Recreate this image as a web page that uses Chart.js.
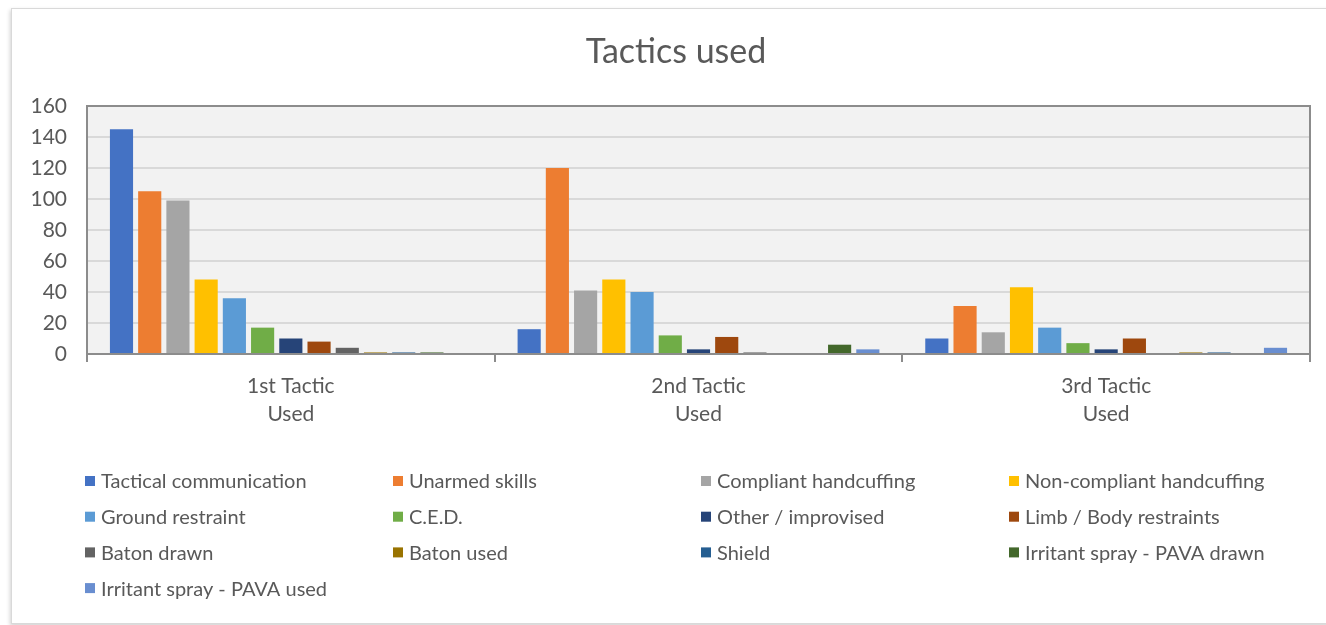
<!DOCTYPE html>
<html><head><meta charset="utf-8">
<script src="https://cdn.jsdelivr.net/npm/chart.js@4.4.1/dist/chart.umd.min.js"></script>
<style>
html,body{margin:0;padding:0;background:#fff;overflow:hidden;width:1326px;height:625px;}
#frame{position:absolute;left:11px;top:8px;width:1340px;height:614px;border:1px solid #d9d9d9;box-shadow:-1px 2px 4px rgba(0,0,0,0.18);background:#fff;}
canvas{position:absolute;left:0;top:0;}
</style></head><body>
<div id="frame"></div>
<canvas id="c" width="1326" height="625"></canvas>
<script>
const categories = [['1st Tactic','Used'],['2nd Tactic','Used'],['3rd Tactic','Used']];
const seriesNames = ['Tactical communication','Unarmed skills','Compliant handcuffing','Non-compliant handcuffing',
  'Ground restraint','C.E.D.','Other / improvised','Limb / Body restraints',
  'Baton drawn','Baton used','Shield','Irritant spray - PAVA drawn','Irritant spray - PAVA used'];
const tacticalCommunication = [145, 16, 10];
const unarmedSkills = [105, 120, 31];
const compliantHandcuffing = [99, 41, 14];
const nonCompliantHandcuffing = [48, 48, 43];
const groundRestraint = [36, 40, 17];
const ced = [17, 12, 7];
const otherImprovised = [10, 3, 3];
const limbBodyRestraints = [8, 11, 10];
const batonDrawn = [4, 1, 0];
const batonUsed = [1, 0, 1];
const shield = [1, 0, 1];
const irritantDrawn = [1, 6, 0];
const irritantUsed = [0, 3, 4];
const yTicks = [0, 20, 40, 60, 80, 100, 120, 140, 160];
const seriesColors = ['#4472C4','#ED7D31','#A5A5A5','#FFC000','#5B9BD5','#70AD47','#264478','#9E480E','#636363','#997300','#255E91','#43682B','#698ED0'];

const seriesValues = [tacticalCommunication, unarmedSkills, compliantHandcuffing, nonCompliantHandcuffing,
  groundRestraint, ced, otherImprovised, limbBodyRestraints, batonDrawn, batonUsed, shield, irritantDrawn, irritantUsed];

const FONT = 'Lato, "Liberation Sans", sans-serif';
const TXT = '#595959';

const datasets = seriesNames.map((name, i) => ({
  label: name,
  data: seriesValues[i],
  backgroundColor: seriesColors[i],
  borderWidth: 0,
  categoryPercentage: 0.9,
  barPercentage: 0.82
}));

const plotFrame = {
  id: 'plotFrame',
  beforeDraw(chart) {
    const {ctx, chartArea: a} = chart;
    ctx.save();
    ctx.fillStyle = '#f2f2f2';
    ctx.fillRect(a.left, a.top, a.right - a.left, a.bottom - a.top);
    ctx.restore();
  },
  beforeDatasetsDraw(chart) {
    const {ctx, chartArea: a} = chart;
    ctx.save();
    ctx.strokeStyle = '#8c8c8c';
    ctx.lineWidth = 2;
    ctx.strokeRect(a.left, a.top, a.right - a.left, a.bottom - a.top);
    ctx.restore();
  },
  afterDraw(chart) {
    const ctx = chart.ctx;
    ctx.save();
    ctx.fillStyle = TXT;
    ctx.font = '34px ' + FONT;
    ctx.textAlign = 'center';
    ctx.textBaseline = 'middle';
    ctx.fillText('Tactics used', 676, 52);
    ctx.font = '20px ' + FONT;
    ctx.textAlign = 'left';
    chart.data.datasets.forEach((ds, i) => {
      const col = i % 4, row = Math.floor(i / 4);
      const x = 85 + col * 308, y = 481 + row * 35.7;
      ctx.fillStyle = ds.backgroundColor;
      ctx.fillRect(x, y - 5, 10, 10);
      ctx.fillStyle = TXT;
      ctx.fillText(ds.label, x + 16, y + 1);
    });
    ctx.restore();
  }
};

new Chart(document.getElementById('c'), {
  type: 'bar',
  data: { labels: categories, datasets },
  options: {
    responsive: false,
    devicePixelRatio: 1,
    animation: false,
    layout: { padding: { left: 0, right: 16, top: 106, bottom: 191 } },
    plugins: { legend: { display: false }, title: { display: false }, tooltip: { enabled: false } },
    scales: {
      x: {
        afterFit(s) { s.height = 80; },
        border: { display: true, color: '#8c8c8c', width: 2 },
        grid: { offset: true, drawOnChartArea: false, color: '#8c8c8c', lineWidth: 2, tickLength: 8 },
        ticks: { color: TXT, font: { family: FONT, size: 21, lineHeight: 1.35 }, padding: 10, maxRotation: 0 }
      },
      y: {
        min: 0, max: 160,
        afterFit(s) { s.width = 87; },
        afterBuildTicks(s) { s.ticks = yTicks.map(v => ({ value: v })); },
        border: { display: false },
        grid: { color: '#d9d9d9', lineWidth: 2, drawTicks: false },
        ticks: { color: TXT, font: { family: FONT, size: 21 }, padding: 20 }
      }
    }
  },
  plugins: [plotFrame]
});
</script>
</body></html>
